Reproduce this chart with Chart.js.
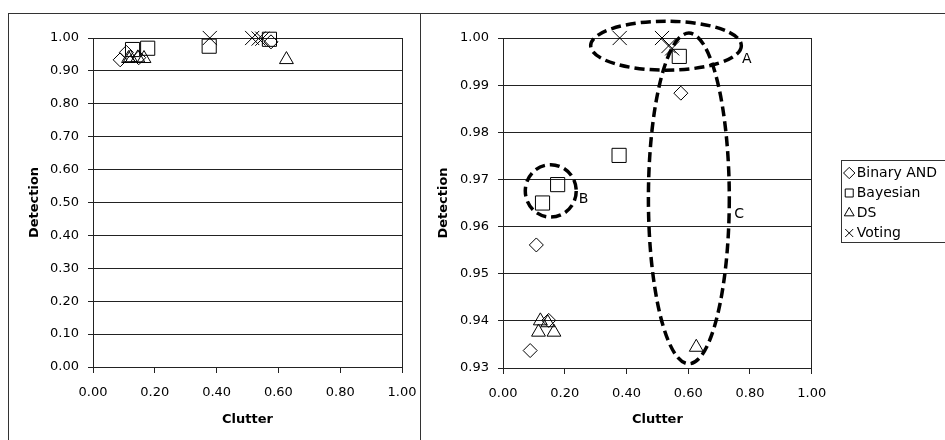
<!DOCTYPE html>
<html>
<head>
<meta charset="utf-8">
<title>Detection vs Clutter</title>
<script src="https://cdn.jsdelivr.net/npm/chart.js"></script>
<style>
  html, body { margin: 0; padding: 0; background: #fff; overflow: hidden; }
  body { width: 945px; height: 440px; position: relative; }
  .frame { position: absolute; border-top: 1px solid #333; border-left: 1px solid #333; }
  .box { position: absolute; }
</style>
</head>
<body>
<div class="frame" style="left:8px; top:13px; width:412px; height:440px;"></div>
<div class="frame" style="left:420px; top:13px; width:540px; height:440px;"></div>
<div class="box" style="left:9px; top:14px; width:420px; height:426px;"><canvas id="full"></canvas></div>
<div class="box" style="left:421px; top:14px; width:526px; height:426px;"><canvas id="zoomed"></canvas></div>
<script>
// Clutter / detection rates per fusion method
const binaryAndClutter = [0.088, 0.108, 0.148, 0.576];
const binaryAndDetection = [0.9337, 0.9561, 0.9401, 0.9883];
const bayesianClutter = [0.128, 0.177, 0.376, 0.571];
const bayesianDetection = [0.9650, 0.9689, 0.9751, 0.9961];
const dsClutter = [0.121, 0.145, 0.115, 0.165, 0.626];
const dsDetection = [0.9400, 0.9396, 0.9376, 0.9376, 0.9344];
const votingClutter = [0.378, 0.515, 0.536, 0.548];
const votingDetection = [1.0000, 1.0000, 0.9983, 0.9978];

const seriesNames = ['Binary AND', 'Bayesian', 'DS', 'Voting'];

const clutterTicks = [0, 0.2, 0.4, 0.6, 0.8, 1];
const fullDetectionTicks = [0, 0.1, 0.2, 0.3, 0.4, 0.5, 0.6, 0.7, 0.8, 0.9, 1];
const zoomDetectionTicks = [0.93, 0.94, 0.95, 0.96, 0.97, 0.98, 0.99, 1];

// marker look for each method
const markers = [
  { pointStyle: 'rectRot', radius: 7 },
  { pointStyle: 'rect', radius: 10 },
  { pointStyle: 'triangle', radius: 8 },
  { pointStyle: 'crossRot', radius: 10 }
];

// dashed groupings on the zoomed plot (data units)
const callouts = [
  { cx: 0.528, cy: 0.99837, rx: 0.244, ry: 0.0052, tag: 'A', tx: 0.790, ty: 0.99555 },
  { cx: 0.1547, cy: 0.96757, rx: 0.0825, ry: 0.00556, tag: 'B', tx: 0.261, ty: 0.96585 },
  { cx: 0.602, cy: 0.96597, rx: 0.131, ry: 0.03507, tag: 'C', tx: 0.765, ty: 0.96251 }
];

const INK = '#000';
const LINE = '#222';
const FONT = 'DejaVu Sans';

Chart.defaults.font.family = FONT;
Chart.defaults.color = INK;

function buildDatasets() {
  const pairs = [
    [binaryAndClutter, binaryAndDetection],
    [bayesianClutter, bayesianDetection],
    [dsClutter, dsDetection],
    [votingClutter, votingDetection]
  ];
  return pairs.map(([xs, ys], i) => ({
    label: seriesNames[i],
    data: xs.map((x, j) => ({ x: x, y: ys[j] })),
    pointStyle: markers[i].pointStyle,
    pointRadius: markers[i].radius,
    pointHoverRadius: markers[i].radius,
    borderColor: INK,
    backgroundColor: 'rgba(0,0,0,0)',
    borderWidth: 1,
    pointBorderWidth: 1,
    showLine: false,
    clip: false
  }));
}

function fixedTicks(list) {
  return (scale) => { scale.ticks = list.map(v => ({ value: v })); };
}

function buildScales(yMin, yMax, yTicks, yTitlePad, leftWidth, rightWidth, bottomHeight) {
  return {
    x: {
      type: 'linear', min: 0, max: 1,
      afterBuildTicks: fixedTicks(clutterTicks),
      afterFit: (s) => { s.height = bottomHeight; },
      grid: { drawOnChartArea: false, drawTicks: true, tickLength: 6, color: LINE },
      border: { display: true, color: LINE },
      ticks: { padding: 12, font: { size: 13 }, color: INK, callback: v => v.toFixed(2) },
      title: { display: true, text: 'Clutter', font: { size: 13, weight: 'bold' }, color: INK, padding: { top: 0, bottom: 13 } }
    },
    y: {
      type: 'linear', min: yMin, max: yMax,
      afterBuildTicks: fixedTicks(yTicks),
      afterFit: (s) => { s.width = leftWidth; },
      grid: { drawOnChartArea: true, drawTicks: true, tickLength: 5, color: LINE },
      border: { display: true, color: LINE },
      ticks: { padding: 9, font: { size: 13 }, color: INK, callback: v => v.toFixed(2) },
      title: { display: true, text: 'Detection', font: { size: 13, weight: 'bold' }, color: INK, padding: { top: yTitlePad, bottom: 0 } }
    },
    // right-hand edge of the plot area, also spaces the legend away from it
    edge: {
      type: 'linear', position: 'right', min: 0, max: 1,
      afterFit: (s) => { s.width = rightWidth; },
      grid: { drawOnChartArea: false, drawTicks: false },
      border: { display: true, color: LINE },
      ticks: { display: false }
    }
  };
}

const calloutPlugin = {
  id: 'callouts',
  afterDraw(chart) {
    const { ctx } = chart;
    const xs = chart.scales.x, ys = chart.scales.y;
    ctx.save();
    ctx.strokeStyle = INK;
    ctx.lineWidth = 3.5;
    ctx.setLineDash([10, 5]);
    callouts.forEach(c => {
      const px = xs.getPixelForValue(c.cx);
      const py = ys.getPixelForValue(c.cy);
      const rx = Math.abs(xs.getPixelForValue(c.cx + c.rx) - px);
      const ry = Math.abs(ys.getPixelForValue(c.cy + c.ry) - py);
      ctx.beginPath();
      ctx.ellipse(px, py, rx, ry, 0, 0, Math.PI * 2);
      ctx.stroke();
    });
    ctx.setLineDash([]);
    ctx.fillStyle = INK;
    ctx.font = '14px "' + FONT + '"';
    ctx.textAlign = 'center';
    ctx.textBaseline = 'middle';
    callouts.forEach(c => {
      ctx.fillText(c.tag, xs.getPixelForValue(c.tx), ys.getPixelForValue(c.ty));
    });
    ctx.restore();
  }
};

const legendFrame = {
  id: 'legendFrame',
  afterDraw(chart) {
    const lg = chart.legend;
    if (!lg || !lg.legendHitBoxes || !lg.legendHitBoxes.length) return;
    const boxes = lg.legendHitBoxes;
    const first = boxes[0], last = boxes[boxes.length - 1];
    const ctx = chart.ctx;
    const left = Math.round(lg.left) - 1.5;
    const top = Math.round(first.top) - 5.5;
    const bottom = Math.round(last.top + last.height) + 2.5;
    ctx.save();
    ctx.strokeStyle = '#333';
    ctx.lineWidth = 1;
    ctx.strokeRect(left, top, lg.right - left + 20, bottom - top);
    ctx.restore();
  }
};

new Chart(document.getElementById('full'), {
  type: 'scatter',
  data: { datasets: buildDatasets() },
  options: {
    responsive: true,
    maintainAspectRatio: false,
    animation: false,
    layout: { padding: { left: 0, right: 0, top: 24, bottom: 0 } },
    scales: buildScales(0, 1, fullDetectionTicks, 18, 84, 27, 73),
    plugins: { legend: { display: false }, tooltip: { enabled: false } }
  }
});

new Chart(document.getElementById('zoomed'), {
  type: 'scatter',
  data: { datasets: buildDatasets() },
  options: {
    responsive: true,
    maintainAspectRatio: false,
    animation: false,
    layout: { padding: { left: 0, right: 0, top: 24, bottom: 0 } },
    scales: buildScales(0.93, 1, zoomDetectionTicks, 14.5, 82, 31, 72),
    plugins: {
      legend: {
        position: 'right',
        align: 'center',
        fullSize: false,
        maxWidth: 200,
        labels: {
          usePointStyle: true,
          boxWidth: 1,
          boxHeight: 8,
          padding: 6,
          color: INK,
          font: { size: 14 }
        }
      },
      tooltip: { enabled: false }
    }
  },
  plugins: [calloutPlugin, legendFrame]
});
</script>
</body>
</html>
